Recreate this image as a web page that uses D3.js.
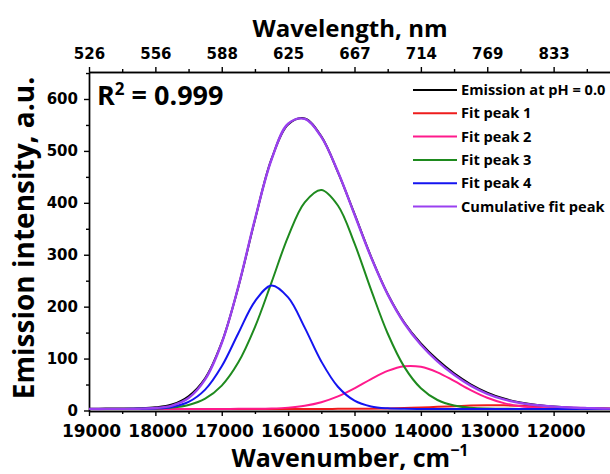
<!DOCTYPE html>
<html>
<head>
<meta charset="utf-8">
<script src="https://cdn.jsdelivr.net/npm/d3@7"></script>
<style>
    body { margin: 0; background: #fff; }
    text { font-family: "Open Sans", sans-serif; font-weight: bold; }
</style>
</head>
<body>
<svg id="chart" width="610" height="474"></svg>
<script>
//Wavenumber grid the spectrum and fits are read on (cm-1)
var wavenumbers = [19000, 18750, 18500, 18250, 18000, 17750, 17500, 17250, 17000, 16750, 16500,
    16250, 16000, 15750, 15500, 15250, 15000, 14750, 14500, 14250, 14000, 13750, 13500, 13250,
    13000, 12750, 12500, 12250, 12000, 11750, 11500, 11250, 11000];

var emission = [3.5, 3.6, 3.8, 4.3, 6.0, 11.5, 27.5, 62.0, 131.0, 238.0, 367.0, 484.5, 551.0, 562.5,
    528.0, 459.0, 378.5, 296.0, 224.5, 169.5, 129.0, 97.5, 71.5, 50.5, 34.5, 23.0, 15.5, 10.5, 7.5,
    5.5, 4.3, 3.6, 3.2];
var peak1 = [3.0, 3.0, 3.0, 3.0, 3.0, 3.0, 3.0, 3.0, 3.0, 3.0, 3.0, 3.0, 3.0, 3.0, 3.0, 3.1, 3.2,
    3.5, 3.9, 4.7, 5.7, 7.0, 8.3, 9.4, 9.9, 9.9, 9.2, 8.0, 6.7, 5.5, 4.5, 3.8, 3.4];
var peak2 = [3.0, 3.0, 3.0, 3.0, 3.0, 3.0, 3.0, 3.0, 3.0, 3.1, 3.3, 3.9, 5.5, 9.1, 15.9, 27.1, 42.7,
    60.5, 76.2, 85.2, 84.1, 73.5, 56.9, 39.3, 24.5, 14.2, 8.2, 5.1, 3.7, 3.2, 3.1, 3.0, 3.0];
var peak3 = [3.0, 3.0, 3.0, 3.2, 3.8, 5.6, 10.7, 22.8, 47.9, 92.7, 160.6, 246.8, 335.0, 400.9, 424.8,
    394.9, 321.7, 232.3, 148.3, 84.0, 42.8, 20.2, 9.5, 5.2, 3.6, 3.2, 3.0, 3.0, 3.0, 3.0, 3.0, 3.0, 3.0];
var peak4 = [3.0, 3.0, 3.0, 3.2, 3.9, 6.9, 16.4, 40.1, 85.1, 148.8, 210.3, 240.8, 217.8, 159.6, 94.4,
    45.7, 19.0, 7.8, 4.1, 3.2, 3.0, 3.0, 3.0, 3.0, 3.0, 3.0, 3.0, 3.0, 3.0, 3.0, 3.0, 3.0, 3.0];
var cumulative = [3.0, 3.0, 3.1, 3.4, 4.7, 9.5, 24.1, 59.9, 130.0, 238.6, 368.2, 483.5, 552.3, 561.6,
    527.1, 459.8, 377.6, 295.1, 223.6, 168.1, 126.7, 94.7, 68.7, 47.8, 32.1, 21.3, 14.4, 10.1, 7.5,
    5.7, 4.6, 3.8, 3.4];

var seriesNames = ["Emission at pH = 0.0", "Fit peak 1", "Fit peak 2", "Fit peak 3", "Fit peak 4", "Cumulative fit peak"];
var seriesValues = [emission, peak1, peak2, peak3, peak4, cumulative];
var seriesColors = ["#000000", "#ee1c1c", "#ff1a8c", "#1e8a1e", "#1414f0", "#9a40f0"];

var bottomTicks = [19000, 18000, 17000, 16000, 15000, 14000, 13000, 12000];
var bottomMinor = [18500, 17500, 16500, 15500, 14500, 13500, 12500, 11500];
var topLabels = ["526", "556", "588", "625", "667", "714", "769", "833"];
var yTicks = [0, 100, 200, 300, 400, 500, 600];
var yMinor = [50, 150, 250, 350, 450, 550, 650];

var svg = d3.select("#chart");

//Plot runs off the right edge of the picture, like the original
var x = d3.scaleLinear().domain([19000, 11000]).range([89, 620]);
var y = d3.scaleLinear().domain([-1, 652]).range([411, 72]);

var tickFont = "DejaVu Sans";

//Bottom axis: wavenumber
var bottomAxis = svg.append("g")
    .attr("transform", "translate(0,411)")
    .call(d3.axisBottom(x).tickValues(bottomTicks).tickSize(5).tickSizeOuter(0).tickFormat(d3.format("d")));
bottomAxis.selectAll("text")
    .attr("y", 26)
    .attr("dy", 0)
    .attr("dx", 2)
    .style("font-family", tickFont)
    .style("font-size", "17px")
    .attr("fill", "#000");
svg.append("g")
    .attr("transform", "translate(0,411)")
    .call(d3.axisBottom(x).tickValues(bottomMinor).tickSize(3).tickSizeOuter(0).tickFormat(""));

//Top axis: same positions, labelled in nm
var topAxis = svg.append("g")
    .attr("transform", "translate(0,72)")
    .call(d3.axisTop(x).tickValues(bottomTicks).tickSize(5).tickSizeOuter(0)
        .tickFormat(function (d, i) { return topLabels[i]; }));
topAxis.selectAll("text")
    .attr("y", -13)
    .attr("dy", 0)
    .style("font-family", tickFont)
    .style("font-size", "15px")
    .attr("fill", "#000");
svg.append("g")
    .attr("transform", "translate(0,72)")
    .call(d3.axisTop(x).tickValues(bottomMinor).tickSize(3).tickSizeOuter(0).tickFormat(""));

//Left axis
var leftAxis = svg.append("g")
    .attr("transform", "translate(89,0)")
    .call(d3.axisLeft(y).tickValues(yTicks).tickSize(5).tickSizeOuter(0));
leftAxis.selectAll("text")
    .attr("x", -11)
    .style("font-family", tickFont)
    .style("font-size", "15px")
    .attr("fill", "#000");
svg.append("g")
    .attr("transform", "translate(89,0)")
    .call(d3.axisLeft(y).tickValues(yMinor).tickSize(3).tickSizeOuter(0).tickFormat(""));

svg.selectAll(".domain, .tick line")
    .attr("stroke", "#000")
    .attr("stroke-width", 1.4);

//Curves
svg.append("clipPath")
    .attr("id", "plot-clip")
    .append("rect")
    .attr("x", 89)
    .attr("y", 72)
    .attr("width", 540)
    .attr("height", 339);

var line = d3.line()
    .x(function (d, i) { return x(wavenumbers[i]); })
    .y(function (d) { return y(d); })
    .curve(d3.curveCatmullRom.alpha(0.5));

svg.append("g")
    .attr("clip-path", "url(#plot-clip)")
    .selectAll("path")
    .data(seriesValues)
    .enter()
    .append("path")
    .attr("d", line)
    .attr("fill", "none")
    .attr("stroke", function (d, i) { return seriesColors[i]; })
    .attr("stroke-width", function (d, i) { return i == 5 ? 2.4 : 2; });

//Legend
var legend = svg.append("g");
seriesNames.forEach(function (name, i) {
    var ly = 90 + i * 23.3;
    legend.append("line")
        .attr("x1", 413)
        .attr("x2", 457)
        .attr("y1", ly)
        .attr("y2", ly)
        .attr("stroke", seriesColors[i])
        .attr("stroke-width", 2);
    legend.append("text")
        .attr("x", 461)
        .attr("y", ly + 5)
        .attr("font-size", "14.6px")
        .text(name);
});

//R squared note
var r2 = svg.append("text")
    .attr("x", 97)
    .attr("y", 105)
    .attr("font-size", "27px");
r2.append("tspan").text("R");
r2.append("tspan").attr("dy", -10).attr("font-size", "17px").text("2");
r2.append("tspan").attr("dy", 10).text(" = 0.999");

//Axis titles
svg.append("text")
    .attr("x", 350)
    .attr("y", 37)
    .attr("text-anchor", "middle")
    .attr("font-size", "24px")
    .text("Wavelength, nm");

var xTitle = svg.append("text")
    .attr("x", 350)
    .attr("y", 467)
    .attr("text-anchor", "middle")
    .attr("font-size", "25px");
xTitle.append("tspan").text("Wavenumber, cm");
xTitle.append("tspan").attr("dy", -11).attr("font-size", "16px").text("\u22121");

svg.append("text")
    .attr("transform", "translate(34,238) rotate(-90)")
    .attr("text-anchor", "middle")
    .attr("font-size", "28px")
    .text("Emission intensity, a.u.");
</script>
</body>
</html>
